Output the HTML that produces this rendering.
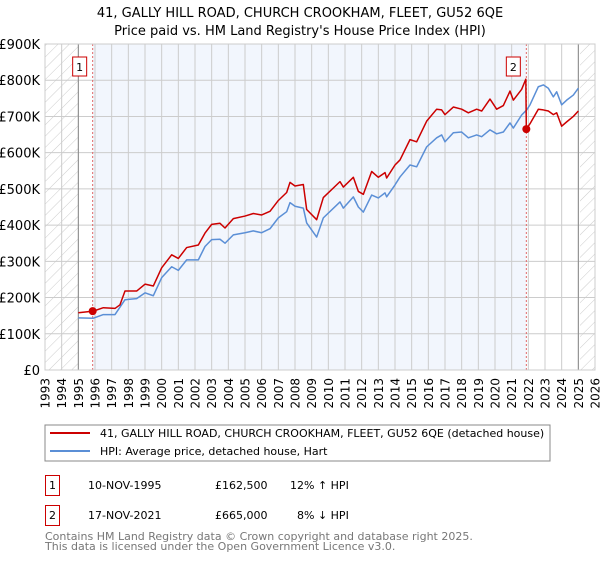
<!DOCTYPE html>
<html><head><meta charset="utf-8"><style>
body{margin:0;background:#fff;font-family:"DejaVu Sans","Liberation Sans",sans-serif;}
svg text{font-family:"DejaVu Sans","Liberation Sans",sans-serif;}
</style></head><body>
<svg id="chart" width="600" height="560" xmlns="http://www.w3.org/2000/svg">
<defs>
<pattern id="hatch" patternUnits="userSpaceOnUse" width="8" height="8" patternTransform="rotate(45)">
<line x1="0" y1="0" x2="0" y2="8" stroke="#ccc" stroke-width="1"/></pattern>
</defs>
<text x="300" y="17" text-anchor="middle" font-size="13">41, GALLY HILL ROAD, CHURCH CROOKHAM, FLEET, GU52 6QE</text>
<text x="300" y="35" text-anchor="middle" font-size="13">Price paid vs. HM Land Registry's House Price Index (HPI)</text>
<g id="plot"></g>
<g id="legend">
<rect x="45" y="425" width="505" height="36" fill="#fff" stroke="#888"/>
<line x1="50" y1="433" x2="90" y2="433" stroke="#cc0000" stroke-width="2"/>
<text x="100" y="437" font-size="11">41, GALLY HILL ROAD, CHURCH CROOKHAM, FLEET, GU52 6QE (detached house)</text>
<line x1="50" y1="451" x2="90" y2="451" stroke="#5b8fd6" stroke-width="2"/>
<text x="100" y="455" font-size="11">HPI: Average price, detached house, Hart</text>
</g>
<g font-size="11">
<rect x="45.5" y="475.5" width="14" height="20" fill="#fff" stroke="#cc0000"/>
<text x="52.5" y="489" text-anchor="middle">1</text>
<text x="88" y="489">10-NOV-1995</text>
<text x="215" y="489">£162,500</text>
<text x="290" y="489">12% ↑ HPI</text>
<rect x="45.5" y="505.5" width="14" height="20" fill="#fff" stroke="#cc0000"/>
<text x="52.5" y="519" text-anchor="middle">2</text>
<text x="88" y="519">17-NOV-2021</text>
<text x="215" y="519">£665,000</text>
<text x="297" y="519">8% ↓ HPI</text>
</g>
<text x="45" y="540" font-size="11" fill="#777">Contains HM Land Registry data © Crown copyright and database right 2025.</text>
<text x="45" y="550" font-size="11" fill="#777">This data is licensed under the Open Government Licence v3.0.</text>
</svg>
<script>
const hpiYears=[1995.0,1995.9,1996.5,1997.2,1997.8,1998.5,1999.0,1999.5,2000.0,2000.6,2001.0,2001.5,2002.2,2002.6,2003.0,2003.5,2003.8,2004.3,2005.0,2005.5,2006.0,2006.5,2007.0,2007.5,2007.7,2008.0,2008.5,2008.7,2009.3,2009.7,2010.7,2010.9,2011.5,2011.8,2012.1,2012.6,2013.0,2013.4,2013.5,2014.0,2014.3,2014.9,2015.3,2015.9,2016.5,2016.8,2017.0,2017.5,2018.0,2018.4,2018.9,2019.2,2019.7,2020.1,2020.5,2020.9,2021.1,2021.6,2021.9,2022.1,2022.6,2022.9,2023.2,2023.5,2023.7,2024.0,2024.3,2024.7,2025.0];
const hpiValues=[144,143,153,153,194,197,213,205,255,285,275,304,304,341,360,361,350,373,379,384,379,390,420,437,462,452,447,406,367,420,464,447,478,450,436,483,475,489,478,511,533,566,561,616,641,649,630,655,657,641,649,644,663,652,657,682,668,704,718,732,782,787,778,754,768,732,745,759,778];
const priceYears=[1995.0,1995.9,1996.5,1997.2,1997.5,1997.8,1998.5,1999.0,1999.5,2000.0,2000.6,2001.0,2001.5,2002.2,2002.6,2003.0,2003.5,2003.8,2004.3,2005.0,2005.5,2006.0,2006.5,2007.0,2007.5,2007.7,2008.0,2008.5,2008.7,2009.3,2009.7,2010.7,2010.9,2011.5,2011.8,2012.1,2012.6,2013.0,2013.4,2013.5,2014.0,2014.3,2014.9,2015.3,2015.9,2016.5,2016.8,2017.0,2017.5,2018.0,2018.4,2018.9,2019.2,2019.7,2020.1,2020.5,2020.9,2021.1,2021.6,2021.85,2021.88,2022.1,2022.6,2022.9,2023.2,2023.5,2023.7,2024.0,2024.3,2024.7,2025.0];
const priceValues=[158,162.5,172,170,180,218,218,237,232,282,318,308,338,345,378,402,405,392,418,425,432,428,438,468,490,518,508,512,443,415,476,520,505,532,493,485,548,532,545,530,566,580,636,630,687,720,718,705,726,720,710,720,715,748,720,730,770,745,775,803,665,680,720,718,715,705,710,673,685,700,715];
const saleYears=[1995.86,2021.88];
const saleValues=[162.5,665];
const saleLabels=["1","2"];
const yTicks=[0,100,200,300,400,500,600,700,800,900];
const yTickLabels=["£0","£100K","£200K","£300K","£400K","£500K","£600K","£700K","£800K","£900K"];
const xTicks=[1993,1994,1995,1996,1997,1998,1999,2000,2001,2002,2003,2004,2005,2006,2007,2008,2009,2010,2011,2012,2013,2014,2015,2016,2017,2018,2019,2020,2021,2022,2023,2024,2025,2026];

const L=45,R=595,T=44,B=370,X0=1993,X1=2026,YMAX=900;
const xs=v=>L+(v-X0)/(X1-X0)*(R-L);
const ys=v=>B-v/YMAX*(B-T);
const NS="http://www.w3.org/2000/svg";
const plot=document.getElementById('plot');
function mk(tag,attrs,parent){const e=document.createElementNS(NS,tag);for(const k in attrs)e.setAttribute(k,attrs[k]);(parent||plot).appendChild(e);return e;}

let r=mk('rect',{x:xs(saleYears[0]),y:T,width:xs(saleYears[1])-xs(saleYears[0]),height:B-T,fill:'#f2f6fd'});


r=mk('rect',{x:L,y:T,width:xs(1995)-L,height:B-T,fill:'url(#hatch)'});


r=mk('rect',{x:xs(2025.1),y:T,width:R-xs(2025.1),height:B-T,fill:'url(#hatch)'});



yTicks.forEach((t,i)=>{
 const g=mk('line',{x1:L,x2:R,y1:ys(t),y2:ys(t),stroke:'#ccc','stroke-width':1});
 
 
 const tx=mk('text',{x:L-5,y:ys(t)+5,'text-anchor':'end','font-size':13});
 
 
 tx.textContent=yTickLabels[i];
});
xTicks.forEach(t=>{
 const g=mk('line',{x1:xs(t),x2:xs(t),y1:T,y2:B,stroke:'#ccc','stroke-width':1});
 
 
 const tx=mk('text',{x:0,y:0,'text-anchor':'end','font-size':12,transform:`translate(${xs(t)+4.5},${B+8}) rotate(-90)`});
 
 
 tx.textContent=t;
});
[1995,2025].forEach(t=>{
 const g=mk('line',{x1:xs(t),x2:xs(t),y1:T,y2:B,stroke:'#888','stroke-width':1});
 
 
});
saleYears.forEach(t=>{
 const g=mk('line',{x1:xs(t),x2:xs(t),y1:T,y2:B,stroke:'#e06666','stroke-width':1,'stroke-dasharray':'2,2'});
 
 
});
r=mk('rect',{x:L,y:T,width:R-L,height:B-T,fill:'none',stroke:'#ccc'});



let p=mk('polyline',{points:hpiYears.map((y,i)=>xs(y)+','+ys(hpiValues[i])).join(' '),fill:'none',stroke:'#5b8fd6','stroke-width':1.5,'stroke-linejoin':'round'});


p=mk('polyline',{points:priceYears.map((y,i)=>xs(y)+','+ys(priceValues[i])).join(' '),fill:'none',stroke:'#cc0000','stroke-width':1.5,'stroke-linejoin':'round'});



saleYears.forEach((t,i)=>{
 const c=mk('circle',{cx:xs(t),cy:ys(saleValues[i]),r:4,fill:'#cc0000'});
 
 
 const bx=xs(t)-13;
 const b=mk('rect',{x:bx-7,y:57,width:14,height:19,fill:'#fff',stroke:'#cc0000'});
 
 
 const tx=mk('text',{x:bx,y:71,'text-anchor':'middle','font-size':11});
 
 
 tx.textContent=saleLabels[i];
});
</script>
</body></html>
